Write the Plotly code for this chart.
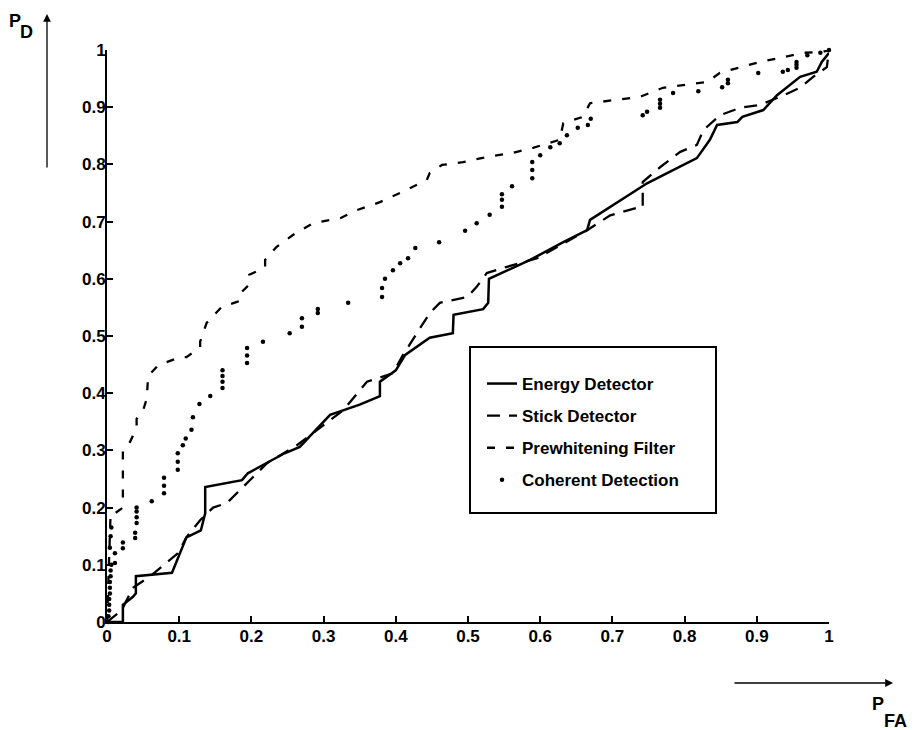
import plotly.graph_objects as go

# ---- data ----
energy_x = [0, 0.022, 0.022, 0.036, 0.04, 0.04, 0.09, 0.097, 0.11, 0.13, 0.136, 0.136, 0.187, 0.195, 0.246, 0.267,
            0.309, 0.35, 0.378, 0.378, 0.40, 0.413, 0.447, 0.479, 0.48, 0.521, 0.528, 0.529, 0.586, 0.632, 0.665,
            0.669, 0.748, 0.784, 0.817, 0.835, 0.845, 0.873, 0.88, 0.909, 0.928, 0.96, 0.983, 0.99, 1.0]
energy_y = [0, 0, 0.03, 0.044, 0.05, 0.08, 0.086, 0.108, 0.148, 0.16, 0.19, 0.236, 0.248, 0.26, 0.295, 0.306,
            0.362, 0.38, 0.395, 0.42, 0.44, 0.467, 0.497, 0.505, 0.537, 0.547, 0.558, 0.60, 0.633, 0.664, 0.685,
            0.703, 0.767, 0.79, 0.811, 0.843, 0.869, 0.874, 0.883, 0.895, 0.921, 0.953, 0.962, 0.979, 0.995]

stick_x = [0, 0.02, 0.036, 0.06, 0.098, 0.11, 0.129, 0.147, 0.166, 0.194, 0.222, 0.263, 0.3, 0.327, 0.36, 0.396,
           0.41, 0.447, 0.461, 0.499, 0.512, 0.526, 0.554, 0.596, 0.641, 0.665, 0.697, 0.734, 0.742, 0.742, 0.766,
           0.794, 0.817, 0.826, 0.849, 0.877, 0.904, 0.932, 0.96, 0.978, 0.997, 1.0]
stick_y = [0, 0.02, 0.06, 0.08, 0.12, 0.148, 0.178, 0.2, 0.208, 0.243, 0.278, 0.309, 0.345, 0.37, 0.42, 0.435,
           0.467, 0.54, 0.558, 0.568, 0.586, 0.61, 0.621, 0.636, 0.668, 0.685, 0.711, 0.724, 0.724, 0.769, 0.795,
           0.822, 0.834, 0.86, 0.886, 0.899, 0.904, 0.918, 0.934, 0.953, 0.97, 1.0]

prew_x = [0, 0.003, 0.005, 0.011, 0.022, 0.022, 0.032, 0.041, 0.041, 0.05, 0.055, 0.057, 0.071, 0.101, 0.11,
          0.129, 0.129, 0.138, 0.159, 0.181, 0.181, 0.197, 0.197, 0.219, 0.219, 0.235, 0.258, 0.285, 0.323, 0.346,
          0.378, 0.409, 0.422, 0.443, 0.447, 0.464, 0.493, 0.526, 0.562, 0.59, 0.627, 0.632, 0.659, 0.669, 0.706,
          0.738, 0.77, 0.798, 0.831, 0.849, 0.877, 0.904, 0.932, 0.964, 0.992, 1.0]
prew_y = [0, 0.1, 0.19, 0.19, 0.2, 0.3, 0.315, 0.34, 0.355, 0.37, 0.39, 0.43, 0.449, 0.463, 0.463,
          0.48, 0.49, 0.523, 0.551, 0.56, 0.57, 0.59, 0.607, 0.62, 0.633, 0.656, 0.677, 0.697, 0.706, 0.72,
          0.734, 0.752, 0.76, 0.773, 0.785, 0.799, 0.804, 0.813, 0.82, 0.829, 0.843, 0.872, 0.883, 0.907, 0.913,
          0.918, 0.934, 0.939, 0.944, 0.96, 0.97, 0.979, 0.986, 0.995, 0.997, 1.0]

coh_x = [0.002, 0.002, 0.003, 0.003, 0.003, 0.004, 0.004, 0.004, 0.005, 0.005, 0.006, 0.004, 0.005, 0.006,
         0.011, 0.011, 0.022, 0.022, 0.039, 0.039, 0.041, 0.041, 0.041, 0.041, 0.062, 0.079, 0.079, 0.079,
         0.098, 0.098, 0.098, 0.105, 0.109, 0.117, 0.119, 0.128, 0.143, 0.16, 0.16, 0.16, 0.16,
         0.194, 0.194, 0.194, 0.216, 0.253, 0.27, 0.27, 0.292, 0.292, 0.334, 0.381, 0.381, 0.385, 0.396,
         0.406, 0.417, 0.427, 0.46, 0.496, 0.512, 0.53, 0.547, 0.547, 0.547, 0.561, 0.589, 0.589, 0.589,
         0.6, 0.614, 0.627, 0.637, 0.652, 0.666, 0.67, 0.742, 0.748, 0.766, 0.766, 0.766, 0.784, 0.819,
         0.852, 0.86, 0.86, 0.902, 0.936, 0.943, 0.955, 0.955, 0.955, 0.97, 0.988, 1.0]
coh_y = [0.0, 0.01, 0.02, 0.03, 0.04, 0.05, 0.06, 0.07, 0.08, 0.09, 0.1, 0.13, 0.15, 0.165,
         0.103, 0.12, 0.129, 0.139, 0.147, 0.156, 0.173, 0.183, 0.193, 0.2, 0.211, 0.225, 0.238, 0.252,
         0.266, 0.28, 0.295, 0.309, 0.321, 0.336, 0.358, 0.381, 0.395, 0.409, 0.42, 0.43, 0.44,
         0.453, 0.466, 0.479, 0.49, 0.505, 0.516, 0.531, 0.54, 0.547, 0.558, 0.568, 0.584, 0.6, 0.615,
         0.627, 0.636, 0.654, 0.664, 0.684, 0.697, 0.712, 0.726, 0.738, 0.748, 0.762, 0.776, 0.79, 0.804,
         0.816, 0.83, 0.837, 0.851, 0.864, 0.869, 0.88, 0.886, 0.892, 0.899, 0.906, 0.913, 0.925, 0.928,
         0.935, 0.942, 0.948, 0.96, 0.962, 0.965, 0.969, 0.974, 0.979, 0.991, 0.995, 1.0]

tick_vals = [0, 0.1, 0.2, 0.3, 0.4, 0.5, 0.6, 0.7, 0.8, 0.9, 1]
tick_text = ["0", "0.1", "0.2", "0.3", "0.4", "0.5", "0.6", "0.7", "0.8", "0.9", "1"]

FONT = "Liberation Sans"

fig = go.Figure()
fig.add_trace(go.Scatter(x=energy_x, y=energy_y, mode="lines", name="Energy Detector",
                         line=dict(color="black", width=2.5), cliponaxis=False, legendgroup="a"))
fig.add_trace(go.Scatter(x=stick_x, y=stick_y, mode="lines", name="Stick Detector",
                         line=dict(color="black", width=2.3, dash="13px,9px"), cliponaxis=False, legendgroup="b"))
fig.add_trace(go.Scatter(x=prew_x, y=prew_y, mode="lines", name="Prewhitening Filter",
                         line=dict(color="black", width=2.3, dash="8px,11px"), cliponaxis=False, legendgroup="c"))
fig.add_trace(go.Scatter(x=coh_x, y=coh_y, mode="markers", name="Coherent Detection",
                         marker=dict(color="black", size=4.5), cliponaxis=False, legendgroup="d"))

axis_common = dict(range=[0, 1], tickvals=tick_vals, ticktext=tick_text, showgrid=False, zeroline=False,
                   showline=True, linecolor="black", linewidth=2, ticks="inside", ticklen=6, tickwidth=1.5,
                   tickcolor="black", tickfont=dict(family=FONT, size=17, color="black", weight="bold"))
fig.update_xaxes(**axis_common, ticklabelstandoff=-2)
fig.update_yaxes(**axis_common, ticklabelstandoff=-4)

L, R, T, B = 107, 85, 50, 108
W, H = 914, 730
pw, ph = W - L - R, H - T - B

def px(xp):
    return (xp - L) / pw

def py(yp):
    return (H - B - yp) / ph

# legend box
fig.add_shape(type="rect", xref="paper", yref="paper", x0=px(470), x1=px(716), y0=py(513), y1=py(347),
              line=dict(color="black", width=2), fillcolor="rgba(0,0,0,0)")

# axis arrows
fig.add_annotation(xref="paper", yref="paper", x=px(47), y=py(14), ax=0, ay=155, showarrow=True,
                   arrowhead=2, arrowsize=1.2, arrowwidth=1.3, arrowcolor="black", text="")
fig.add_annotation(xref="paper", yref="paper", x=px(893), y=py(683), ax=-160, ay=0, showarrow=True,
                   arrowhead=2, arrowsize=1.2, arrowwidth=1.3, arrowcolor="black", text="")

# axis labels (P with large subscript, as in the reference)
lab_font = dict(family=FONT, size=18, color="black", weight="bold")
for txt, cx, cy in [("P", 15, 21), ("D", 26.5, 32), ("P", 878, 704), ("FA", 895.5, 720.5)]:
    fig.add_annotation(xref="paper", yref="paper", x=px(cx), y=py(cy), showarrow=False, xanchor="center",
                       yanchor="middle", text=txt, font=lab_font)

fig.update_layout(
    width=W, height=H, margin=dict(l=L, r=R, t=T, b=B),
    paper_bgcolor="white", plot_bgcolor="white",
    legend=dict(x=px(482), y=py(366), xanchor="left", yanchor="top", bgcolor="rgba(0,0,0,0)",
                borderwidth=0, traceorder="grouped", tracegroupgap=7,
                font=dict(family=FONT, size=17, color="black", weight="bold")),
    showlegend=True,
)

fig.write_html("out.html")
